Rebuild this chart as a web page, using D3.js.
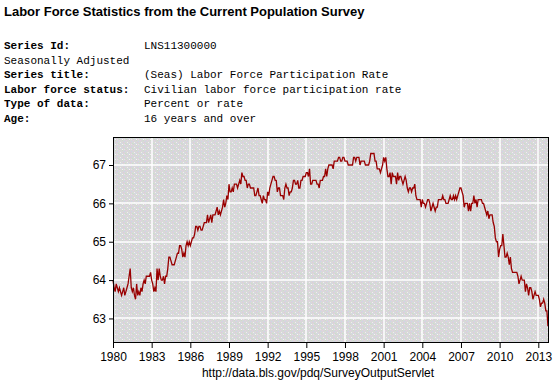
<!doctype html>
<html lang="en">
<head>
<meta charset="utf-8">
<title>Labor Force Participation Rate</title>
<style>
  body { margin: 0; background: #fff; }
  svg { display: block; }
  .title { font-family: "Liberation Sans", Arial, sans-serif; font-weight: bold; font-size: 13px; }
  .info { font-family: "Liberation Mono", "Courier New", monospace; font-size: 11px; }
  .info .lbl { font-weight: bold; }
  .axis text { font-family: "Liberation Sans", Arial, sans-serif; font-size: 12px; fill: #000; }
  .axis .domain { display: none; }
  .src { font-family: "Liberation Sans", Arial, sans-serif; font-size: 12px; }
</style>
</head>
<body>
<svg width="560" height="387"></svg>
<script src="https://d3js.org/d3.v7.min.js"></script>
<script>
// monthly values, seasonally adjusted, Jan 1980 - Oct 2013
var rate1980s = [
  64.0, 63.8, 63.7, 63.9, 63.8, 63.7, 63.8, 63.7, 63.6, 63.7, 63.8, 63.6,
  63.7, 63.8, 63.9, 64.1, 64.3, 63.8, 63.7, 63.8, 63.6, 63.5, 63.9, 63.6,
  63.7, 63.6, 63.8, 63.7, 63.9, 64.0, 63.9, 64.1, 64.1, 64.1, 64.1, 64.2,
  64.0, 63.9, 63.7, 63.8, 63.7, 64.3, 64.0, 64.3, 64.1, 64.0, 64.0, 64.1,
  63.9, 64.1, 64.1, 64.3, 64.6, 64.6, 64.5, 64.4, 64.4, 64.4, 64.5, 64.6,
  64.7, 64.7, 64.9, 64.9, 64.8, 64.6, 64.7, 64.6, 64.9, 65.0, 64.9, 65.0,
  64.9, 65.0, 65.1, 65.1, 65.2, 65.4, 65.4, 65.3, 65.4, 65.4, 65.3, 65.3,
  65.4, 65.5, 65.5, 65.5, 65.7, 65.5, 65.6, 65.7, 65.5, 65.7, 65.7, 65.7,
  65.8, 65.9, 65.7, 65.8, 65.7, 65.8, 65.9, 66.1, 65.9, 66.0, 66.2, 66.1,
  66.5, 66.3, 66.3, 66.4, 66.3, 66.5, 66.5, 66.5, 66.4, 66.5, 66.6, 66.5
];
var rate1990s = [
  66.8, 66.7, 66.7, 66.6, 66.6, 66.4, 66.5, 66.5, 66.4, 66.4, 66.4, 66.4,
  66.2, 66.2, 66.3, 66.4, 66.2, 66.2, 66.1, 66.0, 66.2, 66.1, 66.1, 66.0,
  66.3, 66.2, 66.4, 66.5, 66.6, 66.7, 66.7, 66.6, 66.6, 66.3, 66.4, 66.4,
  66.2, 66.2, 66.2, 66.1, 66.4, 66.5, 66.4, 66.4, 66.2, 66.3, 66.3, 66.4,
  66.6, 66.6, 66.5, 66.5, 66.6, 66.4, 66.4, 66.6, 66.6, 66.7, 66.7, 66.7,
  66.8, 66.8, 66.7, 66.9, 66.5, 66.5, 66.6, 66.6, 66.6, 66.6, 66.5, 66.5,
  66.4, 66.6, 66.6, 66.6, 66.7, 66.7, 66.9, 66.7, 66.9, 67.0, 67.0, 67.0,
  67.0, 66.9, 67.1, 67.1, 67.1, 67.1, 67.2, 67.2, 67.1, 67.1, 67.2, 67.2,
  67.1, 67.1, 67.1, 67.0, 67.0, 67.0, 67.0, 67.0, 67.2, 67.2, 67.1, 67.2,
  67.2, 67.2, 67.0, 67.1, 67.1, 67.1, 67.1, 67.0, 67.0, 67.0, 67.0, 67.1
];
var rate2000s = [
  67.3, 67.3, 67.3, 67.3, 67.1, 67.1, 66.9, 66.9, 66.9, 66.8, 66.9, 67.0,
  67.2, 67.1, 67.2, 66.9, 66.7, 66.7, 66.8, 66.5, 66.8, 66.7, 66.7, 66.7,
  66.5, 66.8, 66.6, 66.7, 66.7, 66.6, 66.5, 66.6, 66.7, 66.6, 66.4, 66.3,
  66.4, 66.4, 66.3, 66.4, 66.4, 66.5, 66.2, 66.1, 66.1, 66.1, 66.1, 65.9,
  66.1, 66.0, 66.0, 65.9, 66.0, 66.1, 66.1, 66.0, 65.8, 65.9, 66.0, 65.9,
  65.8, 65.9, 65.9, 66.1, 66.1, 66.1, 66.1, 66.2, 66.1, 66.1, 66.0, 66.0,
  66.0, 66.1, 66.2, 66.1, 66.1, 66.2, 66.1, 66.2, 66.1, 66.2, 66.3, 66.4,
  66.4, 66.3, 66.2, 65.9, 66.0, 66.0, 66.0, 65.8, 66.0, 65.8, 66.0, 66.0,
  66.2, 66.0, 66.1, 65.9, 66.1, 66.1, 66.1, 66.1, 66.0, 66.0, 65.9, 65.8,
  65.7, 65.8, 65.6, 65.7, 65.7, 65.7, 65.5, 65.4, 65.1, 65.0, 65.0, 64.6
];
var rate2010s = [
  64.8, 64.9, 64.9, 65.2, 64.9, 64.6, 64.6, 64.7, 64.6, 64.4, 64.6, 64.3,
  64.2, 64.2, 64.2, 64.2, 64.2, 64.1, 63.9, 64.0, 64.1, 64.0, 64.0, 64.0,
  63.7, 63.9, 63.8, 63.6, 63.8, 63.8, 63.7, 63.5, 63.6, 63.7, 63.6, 63.6,
  63.6, 63.5, 63.3, 63.4, 63.4, 63.5, 63.4, 63.2, 63.2, 62.8
];
var xTicks = [1980, 1983, 1986, 1989, 1992, 1995, 1998, 2001, 2004, 2007, 2010, 2013];
var yTicks = [63, 64, 65, 66, 67];
var infoLabels = ["Series Id:", "Seasonally Adjusted", "Series title:", "Labor force status:", "Type of data:", "Age:"];
var infoValues = ["LNS11300000", "", "(Seas) Labor Force Participation Rate", "Civilian labor force participation rate", "Percent or rate", "16 years and over"];

var rate = rate1980s.concat(rate1990s, rate2000s, rate2010s);
var data = rate.map(function(v, i) { return {t: 1980 + i / 12, v: v}; });

var svg = d3.select("svg");

// header
svg.append("text").attr("class", "title")
    .attr("x", 4).attr("y", 16)
    .text("Labor Force Statistics from the Current Population Survey");

var info = svg.append("g").attr("class", "info");
infoLabels.forEach(function(l, i) {
  var yy = 49 + i * 14.6;
  info.append("text").attr("class", i == 1 ? null : "lbl")
      .attr("x", 4).attr("y", yy).text(l);
  info.append("text").attr("x", 144).attr("y", yy).text(infoValues[i]);
});

// plot area
var plot = {left: 113, right: 549, top: 137, bottom: 343};

var x = d3.scaleLinear().domain([1980, 2013.83]).range([plot.left, plot.right]);
var y = d3.scaleLinear().domain([62.36, 67.73]).range([plot.bottom, plot.top]);

// dithered pastel background
var defs = svg.append("defs");
var pat = defs.append("pattern").attr("id", "dither")
    .attr("patternUnits", "userSpaceOnUse")
    .attr("width", 7).attr("height", 5);
pat.append("rect").attr("width", 7).attr("height", 5).attr("fill", "#d8d8d8");
var dots = [
  [0, 0, "#e6cce6"], [3, 0, "#ccdccc"], [5, 1, "#ccd4ec"], [1, 2, "#eeeeee"],
  [4, 2, "#e0c8dc"], [6, 3, "#c8e0cc"], [2, 3, "#d0d8ec"], [0, 4, "#ccdccc"],
  [5, 4, "#ecd8ec"], [3, 4, "#f4f4f4"]
];
dots.forEach(function(d) {
  pat.append("rect").attr("x", d[0]).attr("y", d[1]).attr("width", 1).attr("height", 1).attr("fill", d[2]);
});

svg.append("rect")
    .attr("x", plot.left).attr("y", plot.top)
    .attr("width", plot.right - plot.left).attr("height", plot.bottom - plot.top)
    .attr("fill", "url(#dither)");

// grid
var grid = svg.append("g").attr("stroke", "#fff").attr("stroke-width", 1.5);
grid.selectAll(".gx").data(xTicks.slice(1)).enter().append("line")
    .attr("x1", function(d) { return Math.round(x(d)); })
    .attr("x2", function(d) { return Math.round(x(d)); })
    .attr("y1", plot.top).attr("y2", plot.bottom);
grid.selectAll(".gy").data(yTicks).enter().append("line")
    .attr("y1", function(d) { return Math.round(y(d)); })
    .attr("y2", function(d) { return Math.round(y(d)); })
    .attr("x1", plot.left).attr("x2", plot.right);

// the series
var line = d3.line()
    .x(function(d) { return x(d.t); })
    .y(function(d) { return y(d.v); });

svg.append("path")
    .datum(data)
    .attr("fill", "none")
    .attr("stroke", "#990000")
    .attr("stroke-width", 1.3)
    .attr("d", line);

// frame
svg.append("rect")
    .attr("x", plot.left + 0.5).attr("y", plot.top + 0.5)
    .attr("width", plot.right - plot.left - 1).attr("height", plot.bottom - plot.top - 1)
    .attr("fill", "none").attr("stroke", "#000").attr("stroke-width", 1);

// axes
svg.append("g").attr("class", "axis")
    .attr("transform", "translate(0," + plot.bottom + ")")
    .call(d3.axisBottom(x).tickValues(xTicks).tickFormat(d3.format("d")).tickSize(5).tickPadding(4));

svg.append("g").attr("class", "axis")
    .attr("transform", "translate(" + plot.left + ",0)")
    .call(d3.axisLeft(y).tickValues(yTicks).tickFormat(d3.format("d")).tickSize(4).tickPadding(3));

svg.selectAll(".axis .tick line").attr("stroke", "#000");

// source
svg.append("text").attr("class", "src")
    .attr("x", 318).attr("y", 377)
    .attr("text-anchor", "middle")
    .text("http://data.bls.gov/pdq/SurveyOutputServlet");
</script>
</body>
</html>
